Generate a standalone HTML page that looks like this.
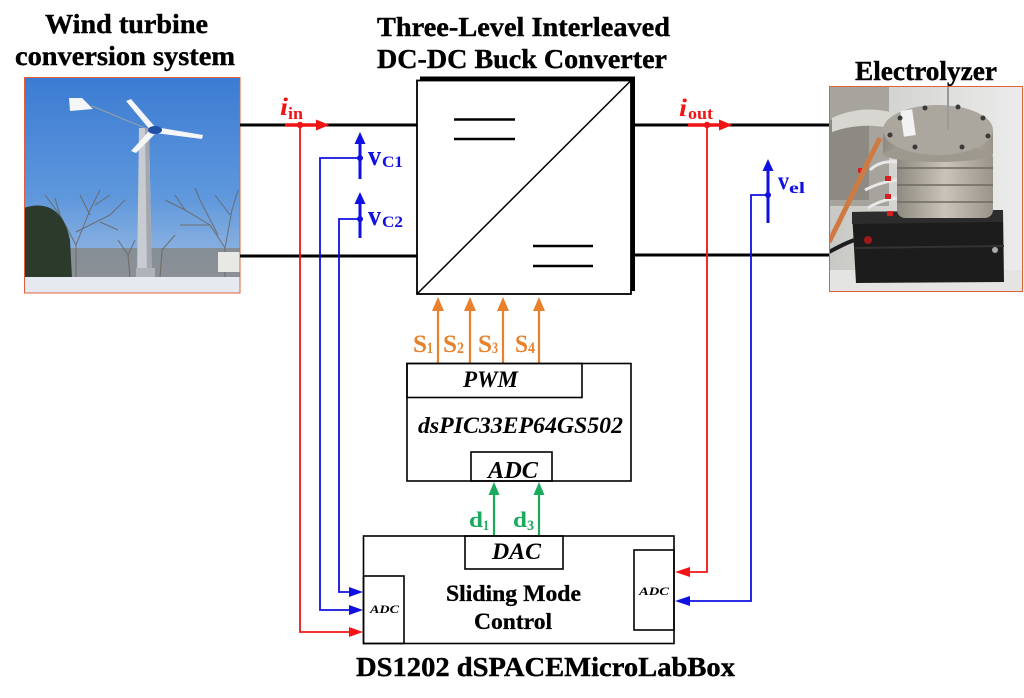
<!DOCTYPE html>
<html><head><meta charset="utf-8"><style>
html,body{margin:0;padding:0;background:#fff;}
svg{display:block;}
text{font-family:"Liberation Serif","Times New Roman",serif;}
.t{font-weight:bold;font-size:27px;fill:#000;stroke:#000;stroke-width:0.4;}
.bi{font-weight:bold;font-style:italic;fill:#000;}
</style></head><body>
<svg width="1024" height="698" viewBox="0 0 1024 698" xmlns="http://www.w3.org/2000/svg">
<defs>
<linearGradient id="sky" x1="0" y1="0" x2="0" y2="1">
<stop offset="0" stop-color="#3b7bd2"/><stop offset="0.55" stop-color="#5e97dc"/><stop offset="1" stop-color="#a9c4e4"/>
</linearGradient>
<linearGradient id="ebg" x1="0" y1="0" x2="1" y2="0">
<stop offset="0" stop-color="#c8c8c4"/><stop offset="1" stop-color="#ececec"/>
</linearGradient>
<linearGradient id="metal" x1="0" y1="0" x2="1" y2="0">
<stop offset="0" stop-color="#8f8a80"/><stop offset="0.5" stop-color="#c9c4ba"/><stop offset="1" stop-color="#9a948a"/>
</linearGradient>
<clipPath id="c1"><rect x="24" y="77" width="216" height="216"/></clipPath>
<clipPath id="c2"><rect x="829" y="86" width="194" height="206"/></clipPath>
</defs>

<!-- Titles -->
<text class="t" x="45" y="33" textLength="163" lengthAdjust="spacingAndGlyphs">Wind turbine</text>
<text class="t" x="15" y="65" textLength="220" lengthAdjust="spacingAndGlyphs">conversion system</text>
<text class="t" x="377" y="36" textLength="293" lengthAdjust="spacingAndGlyphs">Three-Level Interleaved</text>
<text class="t" x="377" y="68" textLength="290" lengthAdjust="spacingAndGlyphs">DC-DC Buck Converter</text>
<text class="t" x="855" y="80" textLength="142" lengthAdjust="spacingAndGlyphs">Electrolyzer</text>
<text class="t" x="356" y="676" textLength="379" lengthAdjust="spacingAndGlyphs">DS1202 dSPACEMicroLabBox</text>

<!-- Wind turbine photo -->
<g clip-path="url(#c1)">
<rect x="24" y="77" width="216" height="216" fill="url(#sky)"/>
<rect x="24" y="248" width="216" height="30" fill="#857f76" opacity="0.7"/>
<g stroke="#6a645e" stroke-width="1" fill="none" opacity="0.85">
<path d="M76,278 L76,245 L60,215 L45,195 M76,245 L90,210 L100,190 M76,232 L110,215 L125,200 M68,230 L40,215 M90,215 L80,195 M100,222 L118,230 M60,215 L55,198 M95,205 L110,195"/>
<path d="M225,278 L225,248 L210,225 L185,210 L165,200 M225,248 L232,210 L238,190 M218,235 L200,200 L195,188 M210,225 L180,225 M230,215 L215,195 M185,210 L175,195"/>
<path d="M130,278 L128,255 L118,240 M128,255 L135,240 M160,278 L162,250 L175,235"/>
</g>
<path d="M24,208 Q38,203 50,208 Q65,215 70,240 L72,278 L24,278 Z" fill="#2b3a2b"/>
<rect x="218" y="252" width="22" height="20" fill="#e8e8e4"/>
<rect x="24" y="277" width="216" height="16" fill="#e6eaf0"/>
<polygon points="139,128 149,128 152,277 137,277" fill="#c8ccd2"/>
<polygon points="145,128 149,128 152,277 147,277" fill="#a3a8ae"/>
<rect x="136" y="268" width="19" height="9" fill="#b0b4b8"/>
<line x1="92" y1="106" x2="150" y2="130" stroke="#9aa0a8" stroke-width="1"/>
<polygon points="69,98 82,98 93,109 70,111" fill="#f4f6f8"/>
<polygon points="126,101 131,99 156,128 151,131" fill="#f4f6f8"/>
<polygon points="155,127 203,135 202,139 155,133" fill="#f4f6f8"/>
<polygon points="150,130 156,133 136,153 131,151" fill="#f4f6f8"/>
<ellipse cx="155" cy="130" rx="7" ry="4" fill="#1f4fa6"/>
</g>
<rect x="24.5" y="77.5" width="215.5" height="215.5" fill="none" stroke="#e0603c" stroke-width="1"/>

<!-- Electrolyzer photo -->
<g clip-path="url(#c2)">
<rect x="829" y="86" width="194" height="206" fill="url(#ebg)"/>
<rect x="829" y="270" width="194" height="22" fill="#e4e4e2"/>
<rect x="829" y="86" width="60" height="120" fill="#a6a49c"/>
<rect x="829" y="120" width="40" height="80" fill="#8c8a82"/>
<path d="M832,118 Q860,105 890,112 L890,128 Q860,122 832,132 Z" fill="#d8d6d0"/>
<path d="M852,212 L1003,210 L1004,282 L856,283 Z" fill="#1c1c1c"/>
<path d="M852,212 L1003,210 L1003,222 L852,224 Z" fill="#2c2c2c"/>
<line x1="855" y1="248" x2="1004" y2="246" stroke="#333" stroke-width="2"/>
<circle cx="868" cy="240" r="4" fill="#a01818"/>
<circle cx="995" cy="250" r="3" fill="#aaa"/>
<rect x="897" y="150" width="96" height="68" rx="8" fill="url(#metal)"/>
<g stroke="#6e6a62" stroke-width="1.5">
<line x1="897" y1="168" x2="993" y2="168"/><line x1="897" y1="185" x2="993" y2="185"/><line x1="897" y1="202" x2="993" y2="202"/>
</g>
<rect x="883" y="130" width="110" height="24" fill="url(#metal)"/>
<ellipse cx="938" cy="154" rx="55" ry="8" fill="#9e998f"/>
<ellipse cx="938" cy="130" rx="55" ry="25" fill="#aba79f"/>
<rect x="902" y="110" width="12" height="26" fill="#f2f2f2" transform="rotate(-8 908 123)"/>
<g fill="#3a3a3a">
<circle cx="900" cy="118" r="2.5"/><circle cx="925" cy="108" r="2.5"/><circle cx="958" cy="107" r="2.5"/><circle cx="983" cy="118" r="2.5"/>
<circle cx="988" cy="136" r="2.5"/><circle cx="962" cy="147" r="2.5"/><circle cx="915" cy="147" r="2.5"/><circle cx="890" cy="135" r="2.5"/>
</g>
<line x1="948" y1="86" x2="948" y2="130" stroke="#9a9a9a" stroke-width="2"/>
<g stroke="#e8e8e8" stroke-width="3" fill="none">
<path d="M870,170 Q880,160 897,162"/><path d="M865,190 Q880,182 897,180"/><path d="M868,208 Q880,200 897,198"/>
</g>
<g fill="#d42020">
<rect x="858" y="168" width="6" height="5"/><rect x="885" y="176" width="6" height="5"/><rect x="885" y="194" width="6" height="5"/><rect x="887" y="211" width="6" height="5"/>
</g>
<path d="M880,138 C866,165 848,205 829,242" stroke="#cf7a44" stroke-width="5" fill="none"/>
<path d="M829,252 C842,245 852,240 862,238" stroke="#1e1e1e" stroke-width="4" fill="none"/>
</g>
<rect x="829.5" y="86.5" width="193" height="205" fill="none" stroke="#e0603c" stroke-width="1"/>

<!-- Bus lines -->
<g stroke="#000" stroke-width="3">
<line x1="240" y1="125" x2="418" y2="125"/><line x1="240" y1="256" x2="418" y2="256"/>
<line x1="634" y1="125" x2="829" y2="125"/><line x1="634" y1="255" x2="829" y2="255"/>
</g>

<!-- Converter -->
<rect x="420" y="76.5" width="215" height="214.5" fill="#000"/>
<rect x="417" y="80.5" width="214" height="213.5" fill="#fff" stroke="#000" stroke-width="1.8"/>
<line x1="417" y1="294" x2="631" y2="80.5" stroke="#000" stroke-width="1.5"/>
<g stroke="#000" stroke-width="2.5">
<line x1="454" y1="119.5" x2="515" y2="119.5"/><line x1="454" y1="139" x2="515" y2="139"/>
<line x1="533" y1="246" x2="593" y2="246"/><line x1="533" y1="266" x2="593" y2="266"/>
</g>

<!-- Red wires -->
<g stroke="#f01414" fill="none">
<line x1="285" y1="125" x2="318" y2="125" stroke-width="3.5"/>
<polyline points="300,125 300,632 350,632" stroke-width="1.8"/>
<line x1="688" y1="125" x2="720" y2="125" stroke-width="3.5"/>
<polyline points="707,125 707,572 690,572" stroke-width="1.8"/>
</g>
<g fill="#f01414">
<polygon points="316,119.5 329.5,125 316,130.5"/>
<circle cx="300" cy="125" r="3.2"/>
<polygon points="349,627 363,632 349,637"/>
<polygon points="719,119.5 732.5,125 719,130.5"/>
<circle cx="707" cy="125" r="3.2"/>
<polygon points="690,567 675,572 690,577"/>
</g>

<!-- Blue wires -->
<g stroke="#1010e0" fill="none">
<line x1="360" y1="142" x2="360" y2="179" stroke-width="3"/>
<line x1="360" y1="202" x2="360" y2="238" stroke-width="3"/>
<line x1="768" y1="169" x2="768" y2="223" stroke-width="3"/>
<polyline points="360,158 320,158 320,610 350,610" stroke-width="1.8"/>
<polyline points="360,219 339,219 339,592 350,592" stroke-width="1.8"/>
<polyline points="768,195 751,195 751,601 690,601" stroke-width="1.8"/>
</g>
<g fill="#1010e0">
<polygon points="360,132 365.5,144 354.5,144"/>
<polygon points="360,192 365.5,204 354.5,204"/>
<polygon points="768,159 773.5,171 762.5,171"/>
<circle cx="360" cy="158" r="3"/><circle cx="360" cy="219" r="3"/><circle cx="768" cy="195" r="3"/>
<polygon points="349,587 363,592 349,597"/>
<polygon points="349,605 363,610 349,615"/>
<polygon points="690,596 675,601 690,606"/>
</g>

<!-- Orange arrows -->
<g stroke="#e8812c" stroke-width="2.2">
<line x1="438" y1="363" x2="438" y2="309"/><line x1="470" y1="363" x2="470" y2="309"/>
<line x1="503" y1="363" x2="503" y2="309"/><line x1="539" y1="363" x2="539" y2="309"/>
</g>
<g fill="#e8812c">
<polygon points="438,297 444,311 432,311"/><polygon points="470,297 476,311 464,311"/>
<polygon points="503,297 509,311 497,311"/><polygon points="539,297 545,311 533,311"/>
</g>

<!-- Green arrows -->
<g stroke="#1aaa5e" stroke-width="2.2">
<line x1="494" y1="536" x2="494" y2="493"/><line x1="539" y1="536" x2="539" y2="493"/>
</g>
<g fill="#1aaa5e">
<polygon points="494,482 499.5,495 488.5,495"/><polygon points="539,482 544.5,495 533.5,495"/>
</g>

<!-- Boxes -->
<g fill="none" stroke="#000" stroke-width="1.6">
<rect x="407" y="363.5" width="224" height="117.5"/>
<rect x="407" y="363.5" width="175" height="34"/>
<rect x="471" y="452" width="81" height="29"/>
<rect x="363.5" y="536" width="310.5" height="107.5"/>
<rect x="465" y="536" width="98" height="33"/>
<rect x="363.5" y="576" width="40.5" height="67.5"/>
<rect x="634" y="550" width="40" height="80"/>
</g>

<!-- Box labels -->
<text class="bi" x="463" y="387" font-size="23" textLength="55" lengthAdjust="spacingAndGlyphs">PWM</text>
<text class="bi" x="418" y="433" font-size="23" textLength="205" lengthAdjust="spacingAndGlyphs">dsPIC33EP64GS502</text>
<text class="bi" x="488" y="478" font-size="24" textLength="50" lengthAdjust="spacingAndGlyphs">ADC</text>
<text class="bi" x="492" y="559" font-size="23" textLength="49" lengthAdjust="spacingAndGlyphs">DAC</text>
<text class="bi" x="370" y="613" font-size="12" textLength="29" lengthAdjust="spacingAndGlyphs">ADC</text>
<text class="bi" x="639" y="595" font-size="12" textLength="30" lengthAdjust="spacingAndGlyphs">ADC</text>
<text x="446" y="601" font-size="23" font-weight="bold" stroke="#000" stroke-width="0.3" textLength="135" lengthAdjust="spacingAndGlyphs">Sliding Mode</text>
<text x="474" y="629" font-size="23" font-weight="bold" stroke="#000" stroke-width="0.3" textLength="78" lengthAdjust="spacingAndGlyphs">Control</text>

<!-- Signal labels -->
<g fill="#f01414" font-weight="bold">
<text x="280" y="115" font-size="25" font-style="italic" textLength="8" lengthAdjust="spacingAndGlyphs">i</text>
<text x="288" y="119" font-size="17" textLength="15" lengthAdjust="spacingAndGlyphs">in</text>
<text x="679" y="116" font-size="25" font-style="italic" textLength="8" lengthAdjust="spacingAndGlyphs">i</text>
<text x="688" y="119" font-size="17" textLength="25" lengthAdjust="spacingAndGlyphs">out</text>
</g>
<g fill="#1010e0" font-weight="bold">
<text x="368" y="165" font-size="28" textLength="13" lengthAdjust="spacingAndGlyphs">v</text>
<text x="382" y="167" font-size="16" textLength="21" lengthAdjust="spacingAndGlyphs">C1</text>
<text x="368" y="225" font-size="28" textLength="13" lengthAdjust="spacingAndGlyphs">v</text>
<text x="382" y="227" font-size="16" textLength="21" lengthAdjust="spacingAndGlyphs">C2</text>
<text x="778" y="189" font-size="25" textLength="11" lengthAdjust="spacingAndGlyphs">v</text>
<text x="789" y="193" font-size="16" textLength="16" lengthAdjust="spacingAndGlyphs">el</text>
</g>
<g fill="#e8812c" font-weight="bold">
<text x="413" y="352" font-size="25" textLength="14" lengthAdjust="spacingAndGlyphs">S</text>
<text x="427" y="353" font-size="16" textLength="6" lengthAdjust="spacingAndGlyphs">1</text>
<text x="443" y="352" font-size="25" textLength="14" lengthAdjust="spacingAndGlyphs">S</text>
<text x="457" y="353" font-size="16" textLength="7" lengthAdjust="spacingAndGlyphs">2</text>
<text x="478" y="352" font-size="25" textLength="14" lengthAdjust="spacingAndGlyphs">S</text>
<text x="492" y="353" font-size="16" textLength="6" lengthAdjust="spacingAndGlyphs">3</text>
<text x="515" y="352" font-size="25" textLength="13" lengthAdjust="spacingAndGlyphs">S</text>
<text x="528" y="353" font-size="16" textLength="7" lengthAdjust="spacingAndGlyphs">4</text>
</g>
<g fill="#1aaa5e" font-weight="bold">
<text x="469" y="527" font-size="22" textLength="14" lengthAdjust="spacingAndGlyphs">d</text>
<text x="483" y="530" font-size="15" textLength="6" lengthAdjust="spacingAndGlyphs">1</text>
<text x="513" y="527" font-size="22" textLength="14" lengthAdjust="spacingAndGlyphs">d</text>
<text x="527" y="530" font-size="15" textLength="7" lengthAdjust="spacingAndGlyphs">3</text>
</g>
</svg>
</body></html>
